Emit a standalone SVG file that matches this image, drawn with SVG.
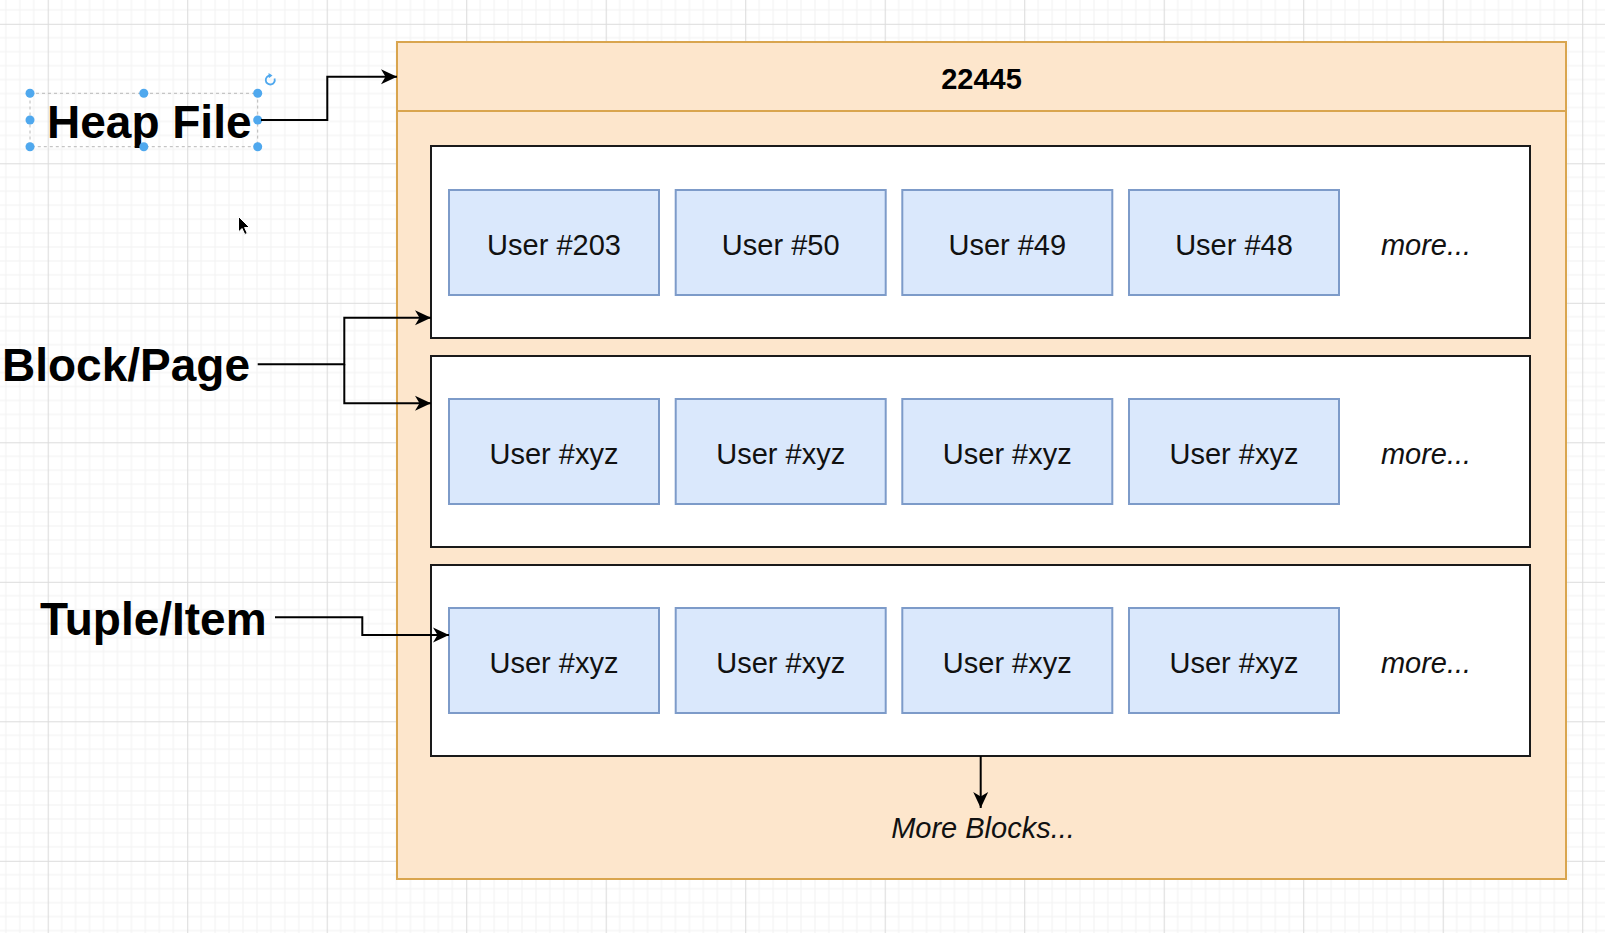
<svg xmlns="http://www.w3.org/2000/svg" width="1605" height="933" viewBox="0 0 1605 933">
<style>
.lbl{font-family:"Liberation Sans",Arial,Helvetica,sans-serif;font-weight:bold;font-size:46px;fill:#000}
.ttl{font-family:"Liberation Sans",Arial,Helvetica,sans-serif;font-weight:bold;font-size:29px;fill:#000;text-anchor:middle}
.usr{font-family:"Liberation Sans",Arial,Helvetica,sans-serif;font-size:29px;fill:#111;text-anchor:middle}
.mor{font-family:"Liberation Sans",Arial,Helvetica,sans-serif;font-style:italic;font-size:29px;fill:#111;text-anchor:middle}
.blk{fill:#fff;stroke:#1a1a1a;stroke-width:2}
.ubox{fill:#dae8fc;stroke:#7d9bc9;stroke-width:2}
.con{fill:none;stroke:#000;stroke-width:2}
.hdl{fill:#4fa8ee}
</style>
<defs>
<pattern id="grid" x="47.7" y="23.8" width="139.5" height="139.5" patternUnits="userSpaceOnUse">
<path d="M13.95 0V139.5M27.9 0V139.5M41.85 0V139.5M55.8 0V139.5M69.75 0V139.5M83.7 0V139.5M97.65 0V139.5M111.6 0V139.5M125.55 0V139.5M0 13.95H139.5M0 27.9H139.5M0 41.85H139.5M0 55.8H139.5M0 69.75H139.5M0 83.7H139.5M0 97.65H139.5M0 111.6H139.5M0 125.55H139.5" stroke="#f2f2f2" stroke-width="1" fill="none"/>
<path d="M0.5 0V139.5M0 0.5H139.5" stroke="#dcdcdc" stroke-width="1.2" fill="none"/>
</pattern>
<marker id="arr" markerUnits="userSpaceOnUse" markerWidth="18" markerHeight="16" refX="16" refY="8" orient="auto" overflow="visible">
<path d="M0,0.5 L16,8 L0,15.5 L4.5,8 Z" fill="#000"/>
</marker>
</defs>
<rect width="1605" height="933" fill="#fff"/>
<rect width="1605" height="933" fill="url(#grid)"/>

<g id="heapfile-container">
<rect x="397" y="42" width="1169" height="837" fill="#fde6cc" stroke="#d9a54e" stroke-width="2"/>
<line x1="397" y1="111" x2="1566" y2="111" stroke="#d9a54e" stroke-width="2"/>
<text class="ttl" x="981.5" y="89">22445</text>
</g>

<g id="block1">
<rect class="blk" x="431" y="146" width="1099" height="192"/>
<g id="b1u1"><rect class="ubox" x="449" y="190" width="210" height="105"/><text class="usr" x="554" y="255">User #203</text></g>
<g id="b1u2"><rect class="ubox" x="675.7" y="190" width="210" height="105"/><text class="usr" x="780.7" y="255">User #50</text></g>
<g id="b1u3"><rect class="ubox" x="902.3" y="190" width="210" height="105"/><text class="usr" x="1007.3" y="255">User #49</text></g>
<g id="b1u4"><rect class="ubox" x="1129" y="190" width="210" height="105"/><text class="usr" x="1234" y="255">User #48</text></g>
<text class="mor" x="1426" y="255">more...</text>
</g>

<g id="block2">
<rect class="blk" x="431" y="356" width="1099" height="191"/>
<g id="b2u1"><rect class="ubox" x="449" y="399" width="210" height="105"/><text class="usr" x="554" y="464">User #xyz</text></g>
<g id="b2u2"><rect class="ubox" x="675.7" y="399" width="210" height="105"/><text class="usr" x="780.7" y="464">User #xyz</text></g>
<g id="b2u3"><rect class="ubox" x="902.3" y="399" width="210" height="105"/><text class="usr" x="1007.3" y="464">User #xyz</text></g>
<g id="b2u4"><rect class="ubox" x="1129" y="399" width="210" height="105"/><text class="usr" x="1234" y="464">User #xyz</text></g>
<text class="mor" x="1426" y="464">more...</text>
</g>

<g id="block3">
<rect class="blk" x="431" y="565" width="1099" height="191"/>
<g id="b3u1"><rect class="ubox" x="449" y="608" width="210" height="105"/><text class="usr" x="554" y="673">User #xyz</text></g>
<g id="b3u2"><rect class="ubox" x="675.7" y="608" width="210" height="105"/><text class="usr" x="780.7" y="673">User #xyz</text></g>
<g id="b3u3"><rect class="ubox" x="902.3" y="608" width="210" height="105"/><text class="usr" x="1007.3" y="673">User #xyz</text></g>
<g id="b3u4"><rect class="ubox" x="1129" y="608" width="210" height="105"/><text class="usr" x="1234" y="673">User #xyz</text></g>
<text class="mor" x="1426" y="673">more...</text>
</g>

<g id="more-blocks">
<text class="mor" x="983" y="838">More Blocks...</text>
</g>

<g id="heap-file-label">
<rect x="30" y="93.3" width="227.7" height="53.4" fill="none" stroke="#b8b8b8" stroke-width="1" stroke-dasharray="3 3"/>
<text class="lbl" x="47" y="137.5">Heap File</text>
<circle class="hdl" cx="30" cy="93.3" r="4.5"/>
<circle class="hdl" cx="143.8" cy="93.3" r="4.5"/>
<circle class="hdl" cx="257.7" cy="93.3" r="4.5"/>
<circle class="hdl" cx="30" cy="120" r="4.5"/>
<circle class="hdl" cx="257.7" cy="120" r="4.5"/>
<circle class="hdl" cx="30" cy="146.7" r="4.5"/>
<circle class="hdl" cx="143.8" cy="146.7" r="4.5"/>
<circle class="hdl" cx="257.7" cy="146.7" r="4.5"/>
<path d="M274.5 78.5 A4.5 4.5 0 1 1 270.5 75.5" fill="none" stroke="#4fa8ee" stroke-width="1.8"/>
<path d="M268.5 73 L272.5 75.6 L268.8 78.2 Z" fill="#4fa8ee"/>
</g>

<g id="block-page-label">
<text class="lbl" x="2" y="381">Block/Page</text>
</g>

<g id="tuple-item-label">
<text class="lbl" x="40" y="635">Tuple/Item</text>
</g>

<g id="cursor">
<path d="M238.5 216.5 L238.5 232 L242 228.5 L244.8 234.5 L247.3 233.4 L244.6 227.5 L249.5 227.5 Z" fill="#000" stroke="#fff" stroke-width="1"/>
</g>

<g id="connectors">
<path class="con" d="M261 120 H327.3 V76.7 H397" marker-end="url(#arr)"/>
<path class="con" d="M257.7 364.3 H344.3 V317.7 H431" marker-end="url(#arr)"/>
<path class="con" d="M344.3 364.3 V403.3 H431" marker-end="url(#arr)"/>
<path class="con" d="M275 617.3 H362.3 V635 H449" marker-end="url(#arr)"/>
<path class="con" d="M980.7 756 V808" marker-end="url(#arr)"/>
</g>
</svg>
